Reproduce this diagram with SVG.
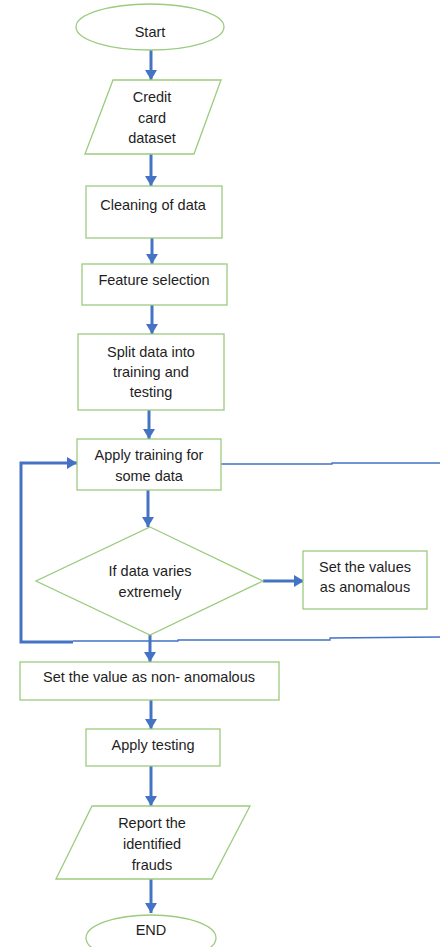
<svg xmlns="http://www.w3.org/2000/svg" width="440" height="947" viewBox="0 0 440 947">
<style>
.n{fill:#fff;stroke:#9CCB7E;stroke-width:1.3}
.t{font-family:"Liberation Sans",Arial,sans-serif;font-size:14.5px;fill:#1e1e1e;text-anchor:middle}
.c{stroke:#4472C4;stroke-width:3;fill:none}
.thin{stroke:#4472C4;stroke-width:1.3;fill:none}
</style>
<defs>
<marker id="ah" markerUnits="userSpaceOnUse" markerWidth="12" markerHeight="12" refX="10" refY="6" orient="auto">
<path d="M0,0 L10,6 L0,12 Z" fill="#4472C4"/>
</marker>
</defs>
<rect width="440" height="947" fill="#fff"/>
<g id="connectors">
<line class="c" x1="151" y1="50" x2="151" y2="80" marker-end="url(#ah)"/>
<line class="c" x1="151" y1="154" x2="151" y2="186" marker-end="url(#ah)"/>
<line class="c" x1="152" y1="238" x2="152" y2="264" marker-end="url(#ah)"/>
<line class="c" x1="152" y1="305" x2="152" y2="334" marker-end="url(#ah)"/>
<line class="c" x1="149" y1="410" x2="149" y2="439" marker-end="url(#ah)"/>
<line class="c" x1="148" y1="490" x2="148" y2="527" marker-end="url(#ah)"/>
<line class="c" x1="263" y1="581" x2="304" y2="581" marker-end="url(#ah)"/>
<line class="c" x1="150" y1="635" x2="150" y2="662" marker-end="url(#ah)"/>
<line class="c" x1="151" y1="700" x2="151" y2="729" marker-end="url(#ah)"/>
<line class="c" x1="151" y1="766" x2="151" y2="806" marker-end="url(#ah)"/>
<line class="c" x1="151" y1="879" x2="151" y2="913" marker-end="url(#ah)"/>
<polyline class="c" points="73,642 21,642 21,463 77,463" marker-end="url(#ah)"/>
<polyline class="thin" points="221,464 332,464 332,463 440,463"/>
<polyline class="thin" points="73,641 178,641 178,640 330,640 330,638 440,637"/>
</g>
<g id="start">
<ellipse class="n" cx="150" cy="27" rx="74" ry="23"/>
<text class="t" x="150" y="37">Start</text>
</g>
<g id="dataset">
<polygon class="n" points="113,80 221,80 194,154 85,154"/>
<text class="t" x="152" y="102">Credit</text>
<text class="t" x="152" y="123">card</text>
<text class="t" x="152" y="143">dataset</text>
</g>
<g id="cleaning">
<rect class="n" x="86" y="186" width="136" height="52"/>
<text class="t" x="153" y="210">Cleaning of data</text>
</g>
<g id="feature">
<rect class="n" x="82" y="264" width="145" height="41"/>
<text class="t" x="154" y="285">Feature selection</text>
</g>
<g id="split">
<rect class="n" x="78" y="334" width="146" height="76"/>
<text class="t" x="151" y="357">Split data into</text>
<text class="t" x="151" y="377">training and</text>
<text class="t" x="151" y="397">testing</text>
</g>
<g id="train">
<rect class="n" x="77" y="439" width="144" height="51"/>
<text class="t" x="149" y="460">Apply training for</text>
<text class="t" x="149" y="481">some data</text>
</g>
<g id="decision">
<polygon class="n" points="150,527 263,581 150,635 36,581"/>
<text class="t" x="150" y="576">If data varies</text>
<text class="t" x="150" y="597">extremely</text>
</g>
<g id="anomalous">
<rect class="n" x="303" y="551" width="124" height="58"/>
<text class="t" x="365" y="572">Set the values</text>
<text class="t" x="365" y="592">as anomalous</text>
</g>
<g id="nonanomalous">
<rect class="n" x="20" y="662" width="259" height="38"/>
<text class="t" x="149" y="682">Set the value as non- anomalous</text>
</g>
<g id="testing">
<rect class="n" x="86" y="729" width="134" height="37"/>
<text class="t" x="153" y="750">Apply testing</text>
</g>
<g id="report">
<polygon class="n" points="92,806 250,806 212,879 56,879"/>
<text class="t" x="152" y="828">Report the</text>
<text class="t" x="152" y="849">identified</text>
<text class="t" x="152" y="870">frauds</text>
</g>
<g id="end">
<ellipse class="n" cx="151" cy="938" rx="65" ry="23"/>
<text class="t" x="151" y="935">END</text>
</g>
</svg>
